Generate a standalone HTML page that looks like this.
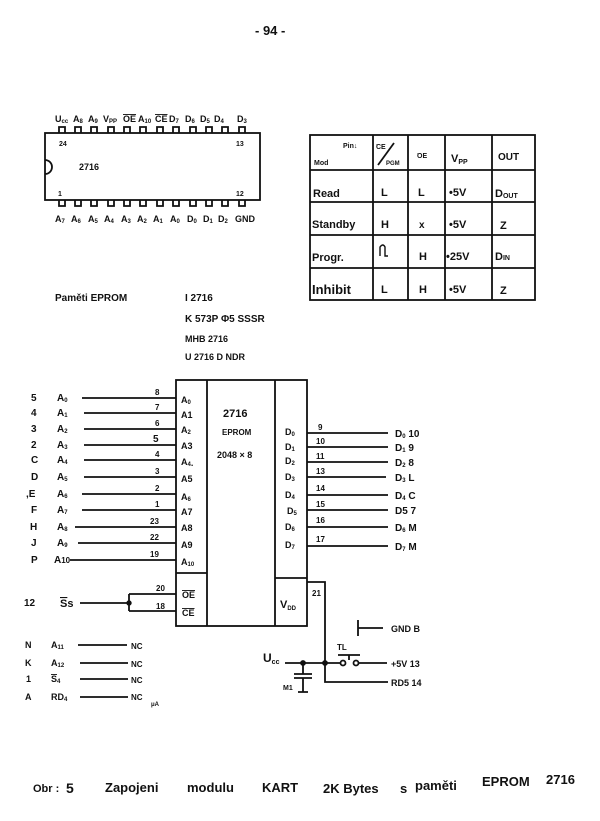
<!DOCTYPE html>
<html><head><meta charset="utf-8"><style>
html,body{margin:0;padding:0;background:#fff;}
svg{display:block;}
text{font-family:"Liberation Sans",sans-serif;font-weight:bold;fill:#111;}
</style></head><body>
<svg width="600" height="821" viewBox="0 0 600 821" xmlns="http://www.w3.org/2000/svg">
<g stroke="#111" stroke-width="1.8" fill="none">
<!-- small chip -->
<rect x="45" y="133" width="215" height="67"/>
<path d="M45,160 A7,7 0 0,1 45,174"/>
<path d="M59,133V127H65V133 M75,133V127H81V133 M91,133V127H97V133 M108,133V127H114V133 M124,133V127H130V133 M140,133V127H146V133 M157,133V127H163V133 M173,133V127H179V133 M190,133V127H196V133 M206,133V127H212V133 M222,133V127H228V133 M239,133V127H245V133"/>
<path d="M59,200V206H65V200 M75,200V206H81V200 M91,200V206H97V200 M108,200V206H114V200 M124,200V206H130V200 M140,200V206H146V200 M157,200V206H163V200 M173,200V206H179V200 M190,200V206H196V200 M206,200V206H212V200 M222,200V206H228V200 M239,200V206H245V200"/>
<!-- table -->
<rect x="310" y="135" width="225" height="165"/>
<path d="M373,135V300 M408,135V300 M445,135V300 M492,135V300 M310,170H535 M310,202H535 M310,235H535 M310,268H535"/>
<path d="M378,165L394,143"/>
<path d="M380,256V247Q383,243 385,247V256H388" stroke-width="1.4"/>
<!-- main chip -->
<rect x="176" y="380" width="131" height="246"/>
<path d="M207,380V626 M275,380V626 M176,573H207 M275,578H307"/>
<!-- left input lines -->
<path d="M82,398H176 M84,413H176 M84,429H176 M84,445H176 M84,460H176 M84,477H176 M82,494H176 M82,510H176 M75,527H176 M78,543H176 M70,560H176"/>
<path d="M80,603H129 M129,594V611 M129,594H176 M129,611H176"/>
<circle cx="129" cy="603" r="1.8" fill="#111"/>
<!-- right output lines -->
<path d="M307,433H388 M307,447H388 M307,462H388 M307,477H386 M307,495H388 M307,510H388 M307,527H388 M307,546H388"/>
<!-- pin 21 -->
<path d="M307,582H325V682H388"/>
<!-- Vcc -->
<path d="M285,663H340 M358,663H387"/>
<circle cx="303" cy="663" r="2" fill="#111"/>
<circle cx="325" cy="663" r="2" fill="#111"/>
<circle cx="343" cy="663" r="2.5" fill="#fff"/>
<circle cx="356" cy="663" r="2.5" fill="#fff"/>
<path d="M338,655H360 M349,655V660"/>
<path d="M303,663V674 M294,674H312 M294,678H312 M303,678V692 M298,692H308"/>
<!-- GND -->
<path d="M358,620V636 M358,628H383"/>
<!-- NC lines -->
<path d="M78,645H127 M80,663H128 M80,679H128 M80,697H128"/>
</g>

<!-- page number -->
<text x="255" y="35" font-size="13">-  94  -</text>

<!-- small chip labels -->
<g font-size="9">
<text x="55" y="122">U<tspan font-size="6" dy="1">cc</tspan></text>
<text x="73" y="122">A<tspan font-size="6" dy="1">8</tspan></text>
<text x="88" y="122">A<tspan font-size="6" dy="1">9</tspan></text>
<text x="103" y="122">V<tspan font-size="6" dy="1">PP</tspan></text>
<text x="123" y="122" text-decoration="overline">OE</text>
<text x="138" y="122">A<tspan font-size="6" dy="1">10</tspan></text>
<text x="155" y="122" text-decoration="overline">CE</text>
<text x="169" y="122">D<tspan font-size="6" dy="1">7</tspan></text>
<text x="185" y="122">D<tspan font-size="6" dy="1">6</tspan></text>
<text x="200" y="122">D<tspan font-size="6" dy="1">5</tspan></text>
<text x="214" y="122">D<tspan font-size="6" dy="1">4</tspan></text>
<text x="237" y="122">D<tspan font-size="6" dy="1">3</tspan></text>
<text x="55" y="222">A<tspan font-size="6" dy="1">7</tspan></text>
<text x="71" y="222">A<tspan font-size="6" dy="1">6</tspan></text>
<text x="88" y="222">A<tspan font-size="6" dy="1">5</tspan></text>
<text x="104" y="222">A<tspan font-size="6" dy="1">4</tspan></text>
<text x="121" y="222">A<tspan font-size="6" dy="1">3</tspan></text>
<text x="137" y="222">A<tspan font-size="6" dy="1">2</tspan></text>
<text x="153" y="222">A<tspan font-size="6" dy="1">1</tspan></text>
<text x="170" y="222">A<tspan font-size="6" dy="1">0</tspan></text>
<text x="187" y="222">D<tspan font-size="6" dy="1">0</tspan></text>
<text x="203" y="222">D<tspan font-size="6" dy="1">1</tspan></text>
<text x="218" y="222">D<tspan font-size="6" dy="1">2</tspan></text>
<text x="235" y="222">GND</text>
</g>
<g font-size="7">
<text x="59" y="146">24</text>
<text x="236" y="146">13</text>
<text x="58" y="196">1</text>
<text x="236" y="196">12</text>
<text x="79" y="170" font-size="9">2716</text>
</g>

<!-- table text -->
<g font-size="7">
<text x="343" y="148">Pin↓</text>
<text x="314" y="165">Mod</text>
<text x="376" y="149" text-decoration="overline">CE</text>
<text x="386" y="165" font-size="6">PGM</text>
<text x="417" y="158" text-decoration="overline">OE</text>
</g>
<g font-size="11">
<text x="451" y="162">V<tspan font-size="7" dy="2">PP</tspan></text>
<text x="498" y="160" font-size="10">OUT</text>
<text x="313" y="197">Read</text>
<text x="381" y="196">L</text>
<text x="418" y="196">L</text>
<text x="449" y="196">•5V</text>
<text x="495" y="197">D<tspan font-size="7" dy="1">OUT</tspan></text>
<text x="312" y="228">Standby</text>
<text x="381" y="228">H</text>
<text x="419" y="228" font-size="10">x</text>
<text x="449" y="228">•5V</text>
<text x="500" y="229">Z</text>
<text x="312" y="261">Progr.</text>
<text x="419" y="260">H</text>
<text x="446" y="260">•25V</text>
<text x="495" y="260">D<tspan font-size="7">IN</tspan></text>
<text x="312" y="294" font-size="13" font-family="Liberation Serif" font-weight="normal">Inhibit</text>
<text x="381" y="293">L</text>
<text x="419" y="293">H</text>
<text x="449" y="293">•5V</text>
<text x="500" y="294">Z</text>
</g>

<!-- middle text block -->
<g font-size="10">
<text x="55" y="301">Paměti  EPROM</text>
<text x="185" y="301">I 2716</text>
<text x="185" y="322">K 573P Φ5   SSSR</text>
<text x="185" y="342" font-size="9">MHB 2716</text>
<text x="185" y="360" font-size="9">U 2716 D    NDR</text>
</g>

<!-- left labels -->
<g font-size="10">
<text x="31" y="401">5</text><text x="57" y="401">A<tspan font-size="6" dy="1">0</tspan></text>
<text x="31" y="416">4</text><text x="57" y="416">A<tspan font-size="6" dy="1">1</tspan></text>
<text x="31" y="432">3</text><text x="57" y="432">A<tspan font-size="6" dy="1">2</tspan></text>
<text x="31" y="448">2</text><text x="57" y="448">A<tspan font-size="6" dy="1">3</tspan></text>
<text x="31" y="463">C</text><text x="57" y="463">A<tspan font-size="6" dy="1">4</tspan></text>
<text x="31" y="480">D</text><text x="57" y="480">A<tspan font-size="6" dy="1">5</tspan></text>
<text x="26" y="497">,E</text><text x="57" y="497">A<tspan font-size="6" dy="1">6</tspan></text>
<text x="31" y="513">F</text><text x="57" y="513">A<tspan font-size="6" dy="1">7</tspan></text>
<text x="30" y="530">H</text><text x="57" y="530">A<tspan font-size="6" dy="1">8</tspan></text>
<text x="31" y="546">J</text><text x="57" y="546">A<tspan font-size="6" dy="1">9</tspan></text>
<text x="31" y="563">P</text><text x="54" y="563">A<tspan font-size="8">10</tspan></text>
<text x="24" y="606">12</text>
<text x="60" y="607" font-size="11"><tspan text-decoration="overline">S</tspan>s</text>
</g>
<g font-size="8">
<text x="155" y="395">8</text>
<text x="155" y="410">7</text>
<text x="155" y="426">6</text>
<text x="153" y="442" font-size="10">5</text>
<text x="155" y="457">4</text>
<text x="155" y="474">3</text>
<text x="155" y="491">2</text>
<text x="155" y="507">1</text>
<text x="150" y="524">23</text>
<text x="150" y="540">22</text>
<text x="150" y="557">19</text>
<text x="156" y="591">20</text>
<text x="156" y="609">18</text>
</g>

<!-- chip inner labels -->
<g font-size="9">
<text x="181" y="403">A<tspan font-size="6" dy="1">0</tspan></text>
<text x="181" y="418">A1</text>
<text x="181" y="433">A<tspan font-size="6" dy="1">2</tspan></text>
<text x="181" y="449">A3</text>
<text x="181" y="465">A<tspan font-size="6" dy="1">4</tspan>.</text>
<text x="181" y="482">A5</text>
<text x="181" y="500">A<tspan font-size="6" dy="1">6</tspan></text>
<text x="181" y="515">A7</text>
<text x="181" y="531">A8</text>
<text x="181" y="548">A9</text>
<text x="181" y="565">A<tspan font-size="6" dy="1">10</tspan></text>
<text x="182" y="598" text-decoration="overline">OE</text>
<text x="182" y="616" text-decoration="overline">CE</text>
<text x="223" y="417" font-size="11">2716</text>
<text x="222" y="435" font-size="8">EPROM</text>
<text x="217" y="458" font-size="9">2048 × 8</text>
<text x="285" y="435">D<tspan font-size="6" dy="1">0</tspan></text>
<text x="285" y="450">D<tspan font-size="6" dy="1">1</tspan></text>
<text x="285" y="464">D<tspan font-size="6" dy="1">2</tspan></text>
<text x="285" y="480">D<tspan font-size="6" dy="1">3</tspan></text>
<text x="285" y="498">D<tspan font-size="6" dy="1">4</tspan></text>
<text x="287" y="514">D<tspan font-size="6" dy="1">5</tspan></text>
<text x="285" y="530">D<tspan font-size="6" dy="1">6</tspan></text>
<text x="285" y="548">D<tspan font-size="6" dy="1">7</tspan></text>
<text x="280" y="608" font-size="11">V<tspan font-size="6" dy="2">DD</tspan></text>
</g>

<!-- right labels -->
<g font-size="8">
<text x="318" y="430">9</text>
<text x="316" y="444">10</text>
<text x="316" y="459">11</text>
<text x="316" y="474">13</text>
<text x="316" y="491">14</text>
<text x="316" y="507">15</text>
<text x="316" y="523">16</text>
<text x="316" y="542">17</text>
<text x="312" y="596">21</text>
</g>
<g font-size="10">
<text x="395" y="437">D<tspan font-size="6" dy="1">0</tspan><tspan dy="-1"> 10</tspan></text>
<text x="395" y="451">D<tspan font-size="6" dy="1">1</tspan><tspan dy="-1">  9</tspan></text>
<text x="395" y="466">D<tspan font-size="6" dy="1">2</tspan><tspan dy="-1">  8</tspan></text>
<text x="395" y="481">D<tspan font-size="6" dy="1">3</tspan><tspan dy="-1">  L</tspan></text>
<text x="395" y="499">D<tspan font-size="6" dy="1">4</tspan><tspan dy="-1">  C</tspan></text>
<text x="395" y="514">D5  7</text>
<text x="395" y="531">D<tspan font-size="6" dy="1">6</tspan><tspan dy="-1">  M</tspan></text>
<text x="395" y="550">D<tspan font-size="6" dy="1">7</tspan><tspan dy="-1">  M</tspan></text>
</g>

<!-- bottom right -->
<g font-size="9">
<text x="263" y="662" font-size="12">U<tspan font-size="7" dy="2">cc</tspan></text>
<text x="337" y="650" font-size="8">TL</text>
<text x="283" y="690" font-size="7">M1</text>
<text x="391" y="632">GND  B</text>
<text x="391" y="667">+5V  13</text>
<text x="391" y="686">RD5  14</text>
</g>

<!-- NC section -->
<g font-size="9">
<text x="25" y="648">N</text><text x="51" y="648">A<tspan font-size="6" dy="1">11</tspan></text><text x="131" y="649" font-size="8">NC</text>
<text x="25" y="666">K</text><text x="51" y="666">A<tspan font-size="6" dy="1">12</tspan></text><text x="131" y="667" font-size="8">NC</text>
<text x="26" y="682">1</text><text x="51" y="682"><tspan text-decoration="overline">S</tspan><tspan font-size="6" dy="1">4</tspan></text><text x="131" y="683" font-size="8">NC</text>
<text x="25" y="700">A</text><text x="51" y="700">RD<tspan font-size="6" dy="1">4</tspan></text><text x="131" y="700" font-size="8">NC</text>
<text x="151" y="706" font-size="6">μA</text>
</g>

<!-- caption -->
<g font-size="13" font-weight="normal">
<text x="33" y="792" font-size="11">Obr :</text>
<text x="66" y="793" font-size="14">5</text>
<text x="105" y="792">Zapojeni</text>
<text x="187" y="792">modulu</text>
<text x="262" y="792">KART</text>
<text x="323" y="793">2K Bytes</text>
<text x="400" y="793">s</text>
<text x="415" y="790">paměti</text>
<text x="482" y="786">EPROM</text>
<text x="546" y="784">2716</text>
</g>
</svg>
</body></html>
